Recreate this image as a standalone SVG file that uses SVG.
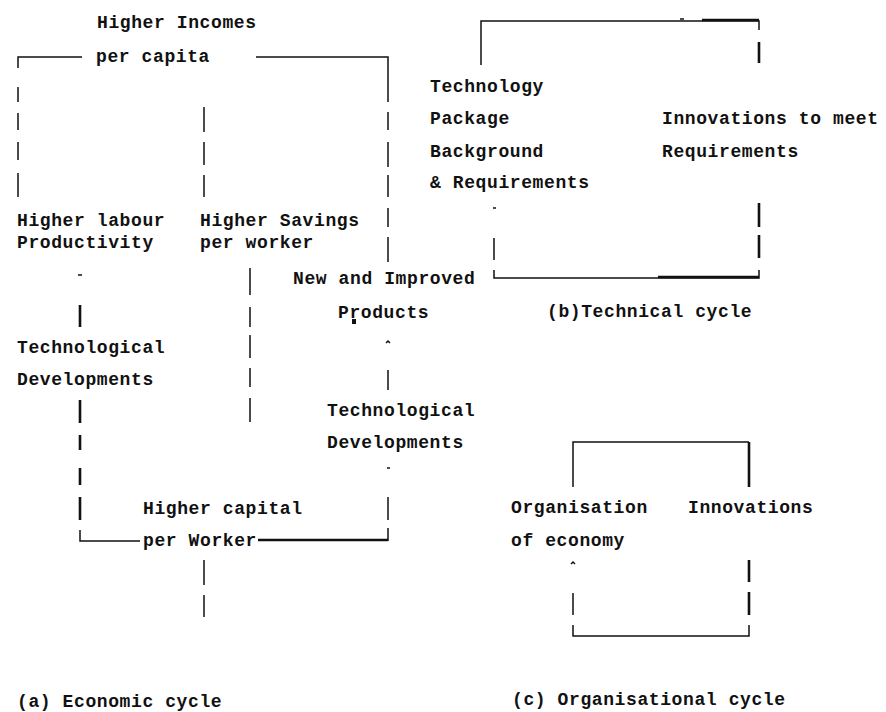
<svg xmlns="http://www.w3.org/2000/svg" width="886" height="712" viewBox="0 0 886 712">
<style>
text{font-family:"Liberation Mono","DejaVu Sans Mono",monospace;font-size:18px;font-weight:bold;letter-spacing:0.6px;fill:#111}
.c{fill:none;stroke:#111;stroke-width:1.5}
.t{fill:none;stroke:#111;stroke-width:2.6}
</style>
<rect width="886" height="712" fill="#fff"/>
<g id="connectors">
<!-- economic cycle -->
<path class="c" d="M18,68V57H82"/>
<path class="c" d="M256,57H388V102"/>
<path class="c" d="M18,87V102M18,113V130M18,142V160M18,173V197"/>
<path class="c" d="M388,112V130M388,142V167M388,175V197M388,208V227M388,237V262M388,370V390M388,497V520"/>
<path class="c" d="M388,528V541"/>
<path class="t" d="M388,540H258"/>
<path class="c" d="M204,107V132M204,142V165M204,175V197"/>
<path class="c" d="M250,268V295M250,307V327M250,335V358M250,368V387M250,398V422"/>
<path class="c" d="M78,275H82"/>
<path class="t" d="M80,305V327M80,400V423M80,435V450M80,468V485M80,497V520"/>
<path class="c" d="M80,530V541H140"/>
<path class="c" d="M204,560V585M204,595V617"/>
<path class="c" d="M386,343L388,341L390,343"/>
<path class="c" d="M387,468H390"/>
<rect x="352" y="319" width="4" height="5" fill="#111"/>
<!-- technical cycle -->
<path class="c" d="M481,65V21H759V30"/>
<path class="t" d="M702,20H759"/>
<path class="c" d="M680,19H684"/>
<path class="t" d="M759,42V63M759,203V227M759,235V258"/>
<path class="c" d="M493,208H496"/>
<path class="c" d="M494,238V260M494,270V278H759V270"/>
<path class="t" d="M658,277H759"/>
<!-- organisational cycle -->
<path class="c" d="M573,487V442H749"/>
<path class="t" d="M749,442V487M749,560V582M749,592V615"/>
<path class="c" d="M571,564L573,562L575,564"/>
<path class="c" d="M573,593V615M573,625V636H749V625"/>
</g>
<g id="higher-incomes"><text x="97" y="28">Higher Incomes</text><text x="96" y="62">per capita</text></g>
<g id="higher-labour"><text x="17" y="226">Higher labour</text><text x="17" y="248">Productivity</text></g>
<g id="higher-savings"><text x="200" y="226">Higher Savings</text><text x="200" y="248">per worker</text></g>
<g id="new-products"><text x="293" y="284">New and Improved</text><text x="338" y="318">Products</text></g>
<g id="tech-dev-left"><text x="17" y="353">Technological</text><text x="17" y="385">Developments</text></g>
<g id="tech-dev-right"><text x="327" y="416">Technological</text><text x="327" y="448">Developments</text></g>
<g id="higher-capital"><text x="143" y="514">Higher capital</text><text x="143" y="546">per Worker</text></g>
<g id="caption-a"><text x="17" y="707">(a) Economic cycle</text></g>
<g id="tech-package"><text x="430" y="92">Technology</text><text x="430" y="124">Package</text><text x="430" y="157">Background</text><text x="430" y="188">&amp; Requirements</text></g>
<g id="innovations-req"><text x="662" y="124">Innovations to meet</text><text x="662" y="157">Requirements</text></g>
<g id="caption-b"><text x="547" y="317">(b)Technical cycle</text></g>
<g id="organisation"><text x="511" y="513">Organisation</text><text x="511" y="546">of economy</text></g>
<g id="innovations"><text x="688" y="513">Innovations</text></g>
<g id="caption-c"><text x="512" y="705">(c) Organisational cycle</text></g>
</svg>
